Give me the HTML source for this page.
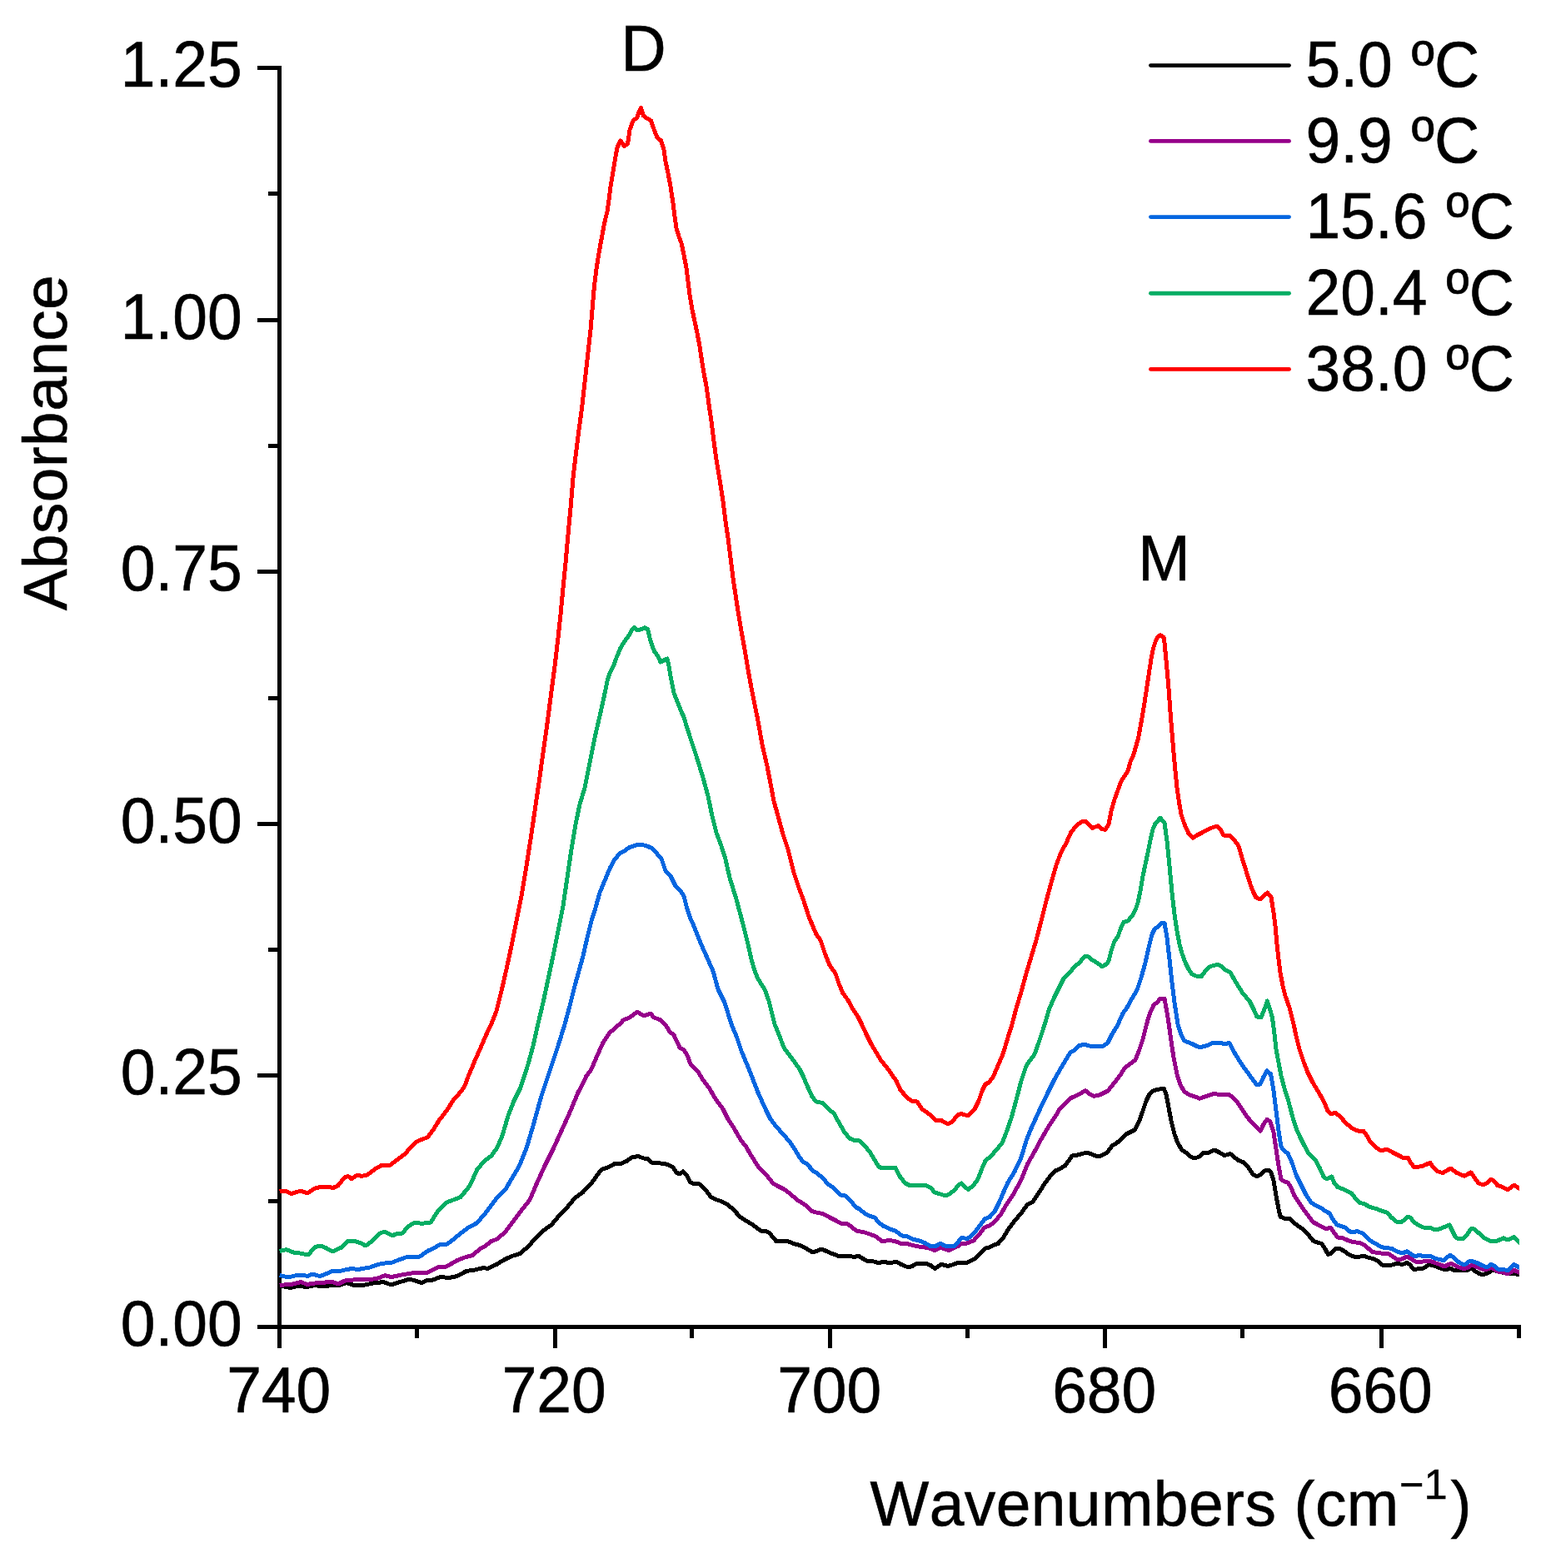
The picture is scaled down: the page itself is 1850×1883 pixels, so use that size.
<!DOCTYPE html><html><head><meta charset="utf-8"><title>Absorbance spectra</title>
<style>html,body{margin:0;padding:0;background:#fff}body{width:1850px;height:1883px;overflow:hidden}svg{display:block}text{font-family:"Liberation Sans",sans-serif;fill:#000;font-kerning:none;stroke:#000;stroke-width:0.6px}</style></head><body>
<svg width="1850" height="1883" viewBox="0 0 1850 1883">
<rect width="1850" height="1883" fill="#fff"/>
<g fill="#000" shape-rendering="crispEdges">
<rect x="333" y="79" width="5" height="1540"/>
<rect x="309" y="1591" width="1517" height="5"/>
<rect x="322" y="1440" width="13" height="5"/>
<rect x="309" y="1289" width="26" height="5"/>
<rect x="322" y="1138" width="13" height="5"/>
<rect x="309" y="987" width="26" height="5"/>
<rect x="322" y="836" width="13" height="5"/>
<rect x="309" y="684" width="26" height="5"/>
<rect x="322" y="533" width="13" height="5"/>
<rect x="309" y="382" width="26" height="5"/>
<rect x="322" y="230" width="13" height="5"/>
<rect x="309" y="79" width="26" height="5"/>
<rect x="498" y="1594" width="5" height="13"/>
<rect x="664" y="1594" width="5" height="25"/>
<rect x="828" y="1594" width="5" height="13"/>
<rect x="994" y="1594" width="5" height="25"/>
<rect x="1159" y="1594" width="5" height="13"/>
<rect x="1324" y="1594" width="5" height="25"/>
<rect x="1489" y="1594" width="5" height="13"/>
<rect x="1656" y="1594" width="5" height="25"/>
<rect x="1821" y="1594" width="5" height="13"/>
</g>
<defs><clipPath id="pc"><rect x="333.2" y="60" width="1490.7" height="1540"/></clipPath></defs>
<g clip-path="url(#pc)" shape-rendering="crispEdges" fill="none" stroke-width="5" stroke-linejoin="round" stroke-linecap="butt">
<polyline stroke="#000000" points="335.6,1544.0 349.0,1546.6 358.0,1544.0 368.0,1545.6 378.0,1543.6 390.0,1545.0 398.0,1543.4 406.0,1544.0 416.0,1540.4 426.0,1544.0 438.0,1543.0 448.0,1541.0 460.0,1539.6 470.0,1543.0 480.0,1539.6 492.0,1536.0 506.0,1540.6 512.0,1537.6 520.0,1537.0 528.0,1533.6 540.0,1534.4 549.0,1532.4 560.0,1526.4 570.0,1525.0 581.0,1522.4 585.0,1523.6 597.0,1518.0 605.0,1513.0 614.0,1508.6 624.0,1505.6 634.0,1497.0 642.0,1488.0 652.0,1478.0 662.0,1471.0 672.0,1459.0 680.0,1451.0 690.0,1439.0 700.0,1431.5 710.0,1421.0 720.0,1407.0 724.0,1403.6 730.0,1402.0 738.0,1397.4 746.0,1397.4 753.0,1394.0 758.0,1390.0 766.0,1388.6 773.0,1391.0 777.0,1391.4 783.0,1396.4 790.0,1396.6 798.0,1397.6 804.0,1399.6 808.0,1401.6 812.0,1408.0 816.0,1410.0 820.0,1407.0 824.0,1411.0 829.0,1420.0 833.0,1421.6 840.0,1422.0 848.0,1430.0 853.0,1437.0 859.0,1440.4 866.0,1442.6 874.0,1447.0 881.0,1453.0 888.0,1461.0 895.0,1465.6 904.0,1471.0 913.0,1478.0 920.0,1478.6 924.0,1481.0 932.0,1490.6 946.0,1490.6 953.0,1493.6 960.0,1495.4 968.0,1499.4 975.0,1503.6 979.0,1503.0 985.0,1500.4 989.0,1501.0 996.0,1504.4 1007.0,1508.4 1020.0,1508.4 1025.0,1509.4 1031.0,1508.4 1040.0,1514.0 1049.0,1515.0 1054.0,1516.6 1060.0,1515.6 1070.0,1516.5 1076.0,1515.0 1082.0,1518.6 1088.0,1521.0 1094.0,1521.0 1101.0,1517.4 1112.0,1517.4 1118.0,1520.0 1122.4,1523.4 1130.0,1518.4 1138.0,1520.4 1143.0,1519.0 1150.0,1516.4 1162.0,1516.0 1170.0,1511.6 1177.0,1505.0 1183.0,1499.0 1188.0,1498.0 1192.0,1495.6 1198.0,1493.6 1204.0,1487.0 1210.0,1477.0 1218.0,1466.0 1226.0,1457.0 1233.0,1447.0 1240.0,1443.0 1248.0,1431.0 1255.0,1420.0 1262.0,1411.0 1267.0,1406.0 1272.0,1404.0 1279.0,1399.6 1287.0,1388.0 1296.0,1386.6 1303.0,1384.4 1308.0,1385.0 1313.0,1387.4 1320.0,1389.0 1329.0,1384.0 1335.0,1376.0 1341.0,1372.4 1346.0,1368.0 1352.0,1362.0 1358.0,1359.0 1362.0,1357.0 1367.0,1348.0 1372.0,1334.0 1376.0,1322.0 1380.0,1314.0 1385.0,1309.6 1392.0,1308.0 1397.0,1307.0 1400.0,1314.0 1403.0,1330.0 1406.0,1346.0 1410.0,1362.0 1414.0,1373.0 1419.0,1381.0 1425.0,1385.0 1429.0,1389.0 1434.0,1391.0 1440.0,1389.0 1445.0,1384.4 1449.0,1385.0 1458.0,1381.0 1464.0,1384.0 1470.0,1387.6 1477.0,1385.6 1486.0,1393.0 1493.0,1396.0 1498.0,1401.0 1504.0,1410.0 1509.0,1413.0 1514.0,1410.0 1519.0,1405.6 1523.0,1405.0 1526.0,1408.0 1529.0,1418.0 1532.0,1436.0 1535.0,1452.0 1537.0,1461.0 1542.0,1463.4 1548.0,1463.4 1552.0,1467.0 1558.0,1472.0 1564.0,1476.0 1570.0,1482.0 1576.0,1489.6 1580.0,1491.6 1587.0,1493.6 1591.0,1500.0 1594.4,1506.6 1598.0,1505.0 1603.0,1499.6 1608.0,1499.4 1613.0,1502.0 1618.0,1505.6 1623.0,1508.4 1629.0,1510.0 1637.0,1508.0 1642.0,1510.0 1650.0,1512.0 1655.0,1515.0 1660.0,1519.4 1669.0,1519.6 1677.0,1517.4 1684.0,1518.4 1689.0,1516.4 1693.0,1519.0 1697.0,1524.4 1708.0,1523.4 1716.0,1518.6 1721.0,1520.0 1728.0,1522.4 1733.0,1524.4 1738.0,1524.4 1741.0,1523.0 1746.0,1525.6 1751.0,1526.0 1756.0,1525.6 1761.0,1525.6 1766.0,1523.0 1772.0,1527.4 1777.0,1530.0 1782.0,1530.4 1788.0,1528.0 1792.0,1525.0 1798.0,1527.0 1810.0,1529.4 1817.6,1529.2 1823.8,1530.8 1829.5,1531.4"/>
<polyline stroke="#96008A" points="335.6,1543.4 350.0,1542.4 361.0,1539.6 369.0,1542.4 378.0,1541.0 386.0,1540.6 398.0,1539.0 406.0,1542.0 414.0,1538.0 430.0,1536.4 442.0,1537.0 454.0,1535.0 462.0,1531.6 470.0,1533.6 482.0,1531.0 494.0,1529.0 512.0,1528.6 520.0,1525.0 526.0,1521.6 536.0,1521.0 548.0,1514.0 558.0,1510.0 567.0,1507.6 576.0,1500.0 583.0,1496.0 590.0,1490.4 597.0,1488.0 607.0,1479.0 618.0,1464.0 628.0,1451.0 636.0,1441.0 644.0,1422.0 654.0,1400.0 664.0,1380.0 674.0,1358.0 684.0,1336.0 694.0,1312.0 700.0,1300.5 704.0,1292.0 710.0,1284.0 716.0,1270.0 724.0,1252.0 732.0,1240.0 736.0,1237.0 741.0,1232.0 744.4,1230.0 748.0,1225.0 756.0,1222.0 765.0,1215.0 773.0,1220.0 781.0,1217.0 785.0,1222.0 792.0,1224.4 798.5,1230.0 804.0,1239.0 809.0,1243.0 816.0,1258.0 821.0,1261.0 825.0,1267.0 829.0,1278.0 834.0,1283.0 838.0,1287.0 844.0,1297.0 851.0,1306.0 858.0,1318.0 862.0,1324.0 868.0,1332.0 874.0,1344.0 880.0,1353.0 890.0,1370.0 895.0,1376.0 902.0,1388.0 911.0,1402.0 920.0,1411.0 928.0,1421.0 933.0,1424.0 941.0,1428.0 948.0,1433.0 957.0,1441.0 966.0,1446.6 975.0,1454.6 980.0,1456.0 988.0,1457.6 996.0,1462.0 1004.0,1466.0 1009.0,1469.0 1016.0,1469.0 1022.0,1473.0 1028.0,1478.0 1038.0,1480.0 1044.0,1482.0 1052.0,1485.0 1059.0,1491.0 1064.0,1490.0 1070.0,1489.8 1076.0,1491.0 1083.0,1494.0 1089.0,1493.6 1096.0,1495.6 1103.0,1497.0 1110.0,1498.0 1117.0,1499.4 1122.4,1501.6 1129.0,1498.0 1134.0,1500.0 1139.0,1501.6 1146.0,1498.4 1151.0,1496.0 1155.0,1493.0 1161.0,1493.0 1169.0,1489.6 1175.0,1483.0 1182.0,1474.0 1189.0,1471.4 1195.0,1466.0 1201.0,1459.0 1208.0,1447.0 1216.0,1435.0 1226.0,1417.0 1234.0,1397.0 1242.0,1383.0 1250.0,1368.0 1260.0,1351.0 1268.0,1339.0 1272.0,1332.0 1278.0,1326.0 1285.0,1319.0 1292.0,1315.6 1298.0,1312.6 1303.0,1309.6 1308.0,1313.6 1313.0,1316.4 1320.0,1315.0 1330.0,1310.0 1338.0,1300.0 1345.0,1291.0 1350.0,1283.0 1356.0,1278.0 1363.0,1273.0 1368.0,1260.0 1372.0,1248.0 1376.5,1230.0 1380.0,1218.0 1385.0,1207.0 1389.0,1204.0 1393.0,1199.0 1398.0,1199.0 1402.5,1224.7 1406.0,1250.0 1409.0,1270.0 1413.0,1290.0 1417.0,1303.0 1422.0,1311.0 1429.0,1315.4 1435.0,1317.0 1440.0,1319.4 1448.0,1316.4 1457.0,1313.4 1464.0,1314.4 1476.0,1314.6 1485.0,1323.0 1491.0,1332.0 1498.0,1342.4 1506.0,1351.0 1513.0,1358.4 1517.0,1350.0 1521.0,1344.4 1525.0,1347.0 1529.0,1360.0 1532.0,1380.0 1535.0,1400.0 1538.0,1416.4 1542.0,1419.0 1546.0,1420.0 1550.0,1426.0 1554.0,1436.0 1560.0,1445.0 1566.0,1454.0 1572.0,1462.0 1577.0,1468.0 1584.0,1471.6 1591.0,1475.4 1598.0,1474.6 1602.0,1481.0 1606.0,1486.0 1612.0,1486.6 1619.0,1490.0 1624.0,1491.4 1632.0,1492.6 1638.0,1495.0 1644.0,1500.4 1648.0,1503.6 1658.0,1505.0 1666.0,1505.0 1672.0,1509.0 1678.0,1513.0 1683.0,1512.0 1689.0,1509.0 1693.0,1511.0 1699.0,1515.0 1708.0,1515.0 1716.0,1514.0 1724.0,1517.0 1730.0,1519.0 1734.0,1521.0 1740.0,1518.0 1743.0,1517.6 1749.0,1521.0 1757.0,1523.6 1762.0,1522.4 1767.0,1519.0 1773.0,1521.6 1780.0,1524.4 1786.0,1524.0 1791.0,1522.4 1798.0,1527.0 1804.0,1528.0 1810.0,1530.0 1817.6,1525.4 1823.8,1528.1 1829.5,1529.7"/>
<polyline stroke="#0566E0" points="335.6,1531.4 342.0,1533.0 350.0,1533.0 358.0,1531.0 370.0,1532.4 375.0,1530.0 384.0,1532.6 392.0,1529.6 400.0,1526.0 406.0,1527.0 414.0,1525.0 422.0,1523.6 430.0,1524.4 444.0,1522.0 454.0,1518.4 462.0,1517.0 470.0,1516.4 480.0,1512.4 490.0,1509.0 504.0,1509.0 514.0,1502.0 522.0,1498.4 527.0,1495.0 536.0,1494.4 545.0,1488.0 553.0,1481.0 562.0,1474.4 572.0,1469.0 582.0,1458.0 590.0,1447.0 597.0,1438.0 607.0,1428.0 614.0,1416.0 623.0,1401.0 632.0,1379.0 640.0,1352.0 650.0,1316.0 660.0,1286.0 670.0,1256.0 678.0,1230.0 684.0,1208.0 690.0,1184.0 695.0,1166.0 700.0,1148.0 705.0,1126.0 710.0,1106.0 715.0,1090.0 720.0,1072.0 725.0,1060.0 732.0,1043.0 738.0,1032.0 744.0,1025.0 750.0,1021.6 756.0,1017.4 762.0,1015.4 768.0,1014.0 776.0,1015.6 782.0,1018.4 788.0,1024.4 794.0,1031.0 799.0,1046.0 805.0,1052.0 811.0,1064.0 817.0,1070.0 821.0,1076.0 824.0,1088.0 828.0,1101.0 833.0,1112.0 840.0,1130.0 848.0,1148.0 856.0,1166.0 862.0,1188.0 870.0,1204.0 878.0,1230.0 884.0,1244.0 890.0,1262.0 900.0,1286.0 910.0,1312.0 920.0,1334.0 925.0,1344.0 932.0,1353.0 940.0,1362.0 948.0,1371.0 954.0,1380.0 960.0,1390.0 964.0,1395.0 969.0,1398.0 976.0,1406.0 981.0,1409.0 988.0,1415.0 994.0,1422.0 1000.0,1426.0 1009.0,1435.0 1015.0,1436.0 1020.0,1441.0 1028.0,1450.0 1032.0,1452.0 1038.0,1457.0 1044.0,1460.4 1050.0,1462.0 1055.0,1468.0 1060.0,1472.0 1070.0,1476.7 1075.0,1478.0 1083.0,1484.0 1089.0,1484.6 1096.0,1488.4 1102.0,1489.4 1110.0,1492.4 1117.0,1496.6 1123.0,1496.6 1129.0,1493.4 1134.0,1496.0 1139.0,1497.0 1145.0,1496.6 1150.0,1492.0 1154.0,1486.6 1162.0,1487.4 1170.0,1480.0 1176.0,1472.0 1182.0,1464.0 1188.0,1461.6 1194.0,1455.0 1200.0,1443.0 1205.0,1431.0 1210.0,1420.0 1218.0,1407.0 1226.0,1390.0 1232.0,1370.0 1238.0,1355.0 1248.0,1333.0 1258.0,1312.0 1266.0,1296.0 1274.0,1282.0 1280.0,1272.0 1285.0,1264.0 1290.0,1261.0 1296.0,1255.4 1302.0,1254.4 1308.0,1256.0 1314.0,1257.0 1320.0,1256.0 1325.0,1256.0 1330.0,1252.0 1335.0,1242.0 1341.0,1232.5 1348.0,1217.0 1353.0,1210.0 1359.0,1199.0 1365.0,1189.0 1370.0,1174.0 1375.0,1156.0 1379.0,1138.0 1383.0,1122.0 1386.0,1116.0 1390.0,1113.0 1394.0,1108.6 1398.0,1108.6 1401.0,1126.0 1404.0,1152.0 1407.0,1180.0 1410.0,1204.0 1414.0,1230.0 1418.0,1243.0 1422.0,1250.0 1430.0,1253.0 1436.0,1256.0 1440.0,1257.8 1448.0,1256.0 1456.0,1252.4 1465.0,1252.4 1470.0,1253.6 1476.0,1252.6 1483.0,1266.0 1492.0,1280.0 1500.0,1291.0 1509.0,1303.0 1513.0,1302.0 1517.0,1293.0 1521.0,1286.0 1525.6,1290.0 1529.0,1310.0 1532.0,1334.0 1535.0,1358.0 1538.0,1377.0 1542.0,1382.4 1546.0,1385.0 1551.0,1396.0 1556.0,1411.0 1562.0,1423.0 1568.0,1435.0 1574.0,1444.0 1579.0,1447.4 1586.0,1450.6 1591.0,1454.4 1596.0,1457.0 1600.0,1464.0 1605.0,1471.0 1610.0,1472.6 1614.0,1473.6 1619.0,1478.0 1623.0,1480.0 1629.0,1478.6 1636.0,1481.0 1642.0,1487.4 1648.0,1491.6 1655.0,1495.6 1660.0,1498.0 1671.0,1499.4 1678.0,1503.4 1684.0,1505.0 1689.0,1502.6 1694.0,1506.0 1698.0,1508.4 1705.0,1507.6 1711.0,1509.0 1717.0,1508.4 1724.0,1511.6 1733.0,1513.6 1741.0,1507.0 1746.0,1511.0 1752.0,1516.4 1758.0,1519.0 1765.0,1514.0 1772.0,1516.0 1778.0,1519.0 1785.0,1522.0 1790.0,1518.4 1794.0,1520.0 1798.0,1524.0 1804.0,1524.4 1810.0,1525.6 1817.6,1518.4 1823.8,1522.2 1829.5,1524.3"/>
<polyline stroke="#05AD63" points="335.6,1502.4 344.0,1500.6 352.0,1504.0 360.0,1505.0 370.0,1507.0 378.0,1497.6 385.0,1496.0 392.0,1499.0 399.0,1503.0 410.0,1498.0 418.0,1490.0 424.0,1490.0 432.0,1492.4 439.0,1496.0 446.0,1491.0 456.0,1481.0 462.0,1479.0 471.0,1484.0 476.0,1481.6 483.0,1481.0 490.0,1473.0 498.0,1468.0 506.0,1469.4 517.0,1468.0 526.0,1454.0 536.0,1444.0 544.0,1441.0 553.0,1437.6 564.0,1424.0 573.0,1404.0 582.0,1394.0 590.0,1388.0 597.0,1378.0 603.0,1364.0 610.0,1340.0 617.0,1322.0 625.0,1306.0 634.0,1278.0 640.0,1256.0 645.8,1230.0 652.0,1204.0 658.0,1176.0 664.0,1148.0 670.0,1118.0 676.0,1088.0 681.0,1054.0 686.0,1020.0 691.0,990.0 696.0,966.0 702.0,946.0 708.0,916.0 714.0,886.0 720.0,860.0 724.0,842.0 727.0,828.0 729.0,818.0 732.0,808.0 736.0,801.0 740.0,790.0 745.0,778.0 750.0,770.0 755.0,763.0 759.0,756.0 761.6,753.6 765.0,757.0 770.0,755.6 774.0,753.6 777.6,755.6 780.0,766.0 783.0,776.0 786.0,783.0 789.0,786.6 793.0,795.0 797.0,793.0 801.0,791.0 803.0,800.0 805.0,812.0 807.0,822.0 809.0,832.0 812.0,840.0 815.0,847.0 818.0,855.0 820.5,860.0 828.0,884.0 836.0,908.0 844.0,934.0 850.0,956.0 855.0,980.0 860.0,1000.0 866.0,1016.0 871.0,1032.0 876.0,1054.0 884.0,1080.0 892.0,1110.0 898.0,1134.0 902.0,1152.0 906.0,1166.0 910.0,1175.5 914.0,1182.0 918.0,1188.0 923.0,1202.0 927.0,1218.0 930.0,1230.0 935.0,1242.0 941.0,1258.0 946.0,1265.0 953.0,1274.0 960.0,1284.0 964.0,1292.0 970.0,1306.0 975.0,1317.0 980.0,1323.0 988.0,1324.6 995.0,1332.0 1001.0,1337.0 1006.0,1346.0 1014.0,1360.0 1020.0,1367.0 1025.0,1369.4 1032.0,1370.0 1038.0,1376.0 1044.0,1383.0 1050.0,1393.0 1055.0,1401.0 1059.0,1403.0 1070.0,1402.4 1075.0,1402.4 1081.0,1414.0 1087.0,1421.0 1093.0,1424.0 1100.0,1423.0 1113.0,1424.0 1118.0,1427.0 1122.0,1432.0 1129.0,1434.0 1135.0,1436.0 1140.0,1434.0 1146.0,1429.0 1151.0,1423.0 1154.4,1421.0 1158.0,1425.0 1162.4,1428.4 1168.0,1424.0 1174.0,1416.0 1179.0,1403.0 1183.0,1394.0 1190.0,1388.0 1196.0,1381.0 1203.0,1373.0 1208.0,1360.0 1214.0,1343.0 1220.0,1321.0 1226.0,1298.0 1232.0,1280.0 1236.0,1274.0 1242.0,1266.0 1247.0,1252.0 1251.0,1240.0 1254.3,1230.0 1259.5,1212.0 1265.5,1198.0 1272.0,1185.0 1277.0,1175.0 1284.0,1168.0 1290.0,1161.0 1296.0,1156.0 1302.0,1148.6 1306.0,1148.6 1310.0,1152.0 1316.0,1155.6 1323.0,1160.6 1328.0,1158.0 1331.0,1154.0 1334.0,1142.0 1338.0,1130.0 1342.0,1125.0 1345.0,1116.0 1349.0,1107.4 1354.0,1106.0 1359.0,1100.0 1363.0,1093.0 1366.0,1084.0 1369.0,1070.0 1372.0,1052.0 1375.0,1038.0 1378.0,1024.0 1381.0,1009.0 1384.0,996.0 1387.0,989.0 1393.0,982.4 1398.0,988.0 1401.0,1010.0 1404.0,1040.0 1407.0,1072.0 1410.0,1098.0 1413.0,1118.0 1416.0,1134.0 1419.0,1145.0 1423.0,1156.0 1427.0,1164.0 1431.0,1170.0 1436.0,1172.0 1442.0,1173.0 1447.0,1166.0 1452.0,1161.0 1457.0,1159.4 1462.0,1158.4 1466.0,1160.0 1470.0,1164.0 1477.0,1168.0 1484.0,1180.0 1492.0,1193.0 1500.0,1202.0 1505.0,1212.0 1509.0,1221.0 1514.0,1222.0 1518.0,1212.0 1521.4,1202.0 1527.4,1221.5 1530.0,1242.0 1532.0,1260.0 1535.0,1276.0 1538.0,1292.0 1542.0,1307.0 1547.0,1323.0 1552.0,1342.0 1556.0,1355.0 1561.0,1366.0 1566.0,1376.0 1571.0,1385.0 1579.0,1393.0 1584.0,1402.0 1589.0,1413.0 1593.0,1416.0 1598.6,1413.0 1602.0,1421.0 1606.0,1425.6 1614.0,1428.6 1623.0,1433.4 1628.0,1440.0 1633.0,1444.6 1638.0,1445.6 1644.0,1449.4 1652.0,1451.6 1660.0,1454.6 1665.0,1456.0 1670.0,1461.6 1676.0,1467.0 1682.0,1468.0 1686.0,1465.0 1690.0,1461.0 1693.0,1462.0 1698.0,1468.0 1704.0,1472.0 1710.0,1474.4 1717.0,1474.0 1722.0,1477.0 1727.0,1476.4 1734.0,1473.6 1740.0,1471.0 1743.0,1477.0 1747.0,1485.0 1750.0,1487.4 1757.0,1487.4 1761.0,1483.0 1766.0,1475.6 1770.0,1476.0 1776.0,1481.4 1782.0,1486.6 1788.0,1490.0 1798.0,1490.0 1805.0,1486.6 1810.0,1489.0 1817.6,1485.4 1823.8,1491.9 1829.5,1497.3"/>
<polyline stroke="#FF0000" points="335.6,1430.6 342.0,1430.0 350.0,1433.6 361.0,1430.0 369.0,1433.0 378.0,1427.0 387.0,1425.0 396.0,1425.4 399.0,1427.0 406.0,1423.6 414.0,1413.6 418.0,1412.6 422.0,1415.6 429.0,1411.0 434.0,1412.4 441.0,1411.0 450.0,1404.0 458.0,1399.4 468.0,1399.4 478.0,1392.0 486.0,1386.0 492.0,1379.0 499.0,1371.6 506.0,1368.4 513.0,1366.0 520.0,1357.0 527.0,1345.6 536.0,1334.0 544.0,1321.6 554.0,1310.0 558.0,1304.0 562.0,1293.0 570.0,1274.0 578.0,1256.0 584.0,1242.0 589.7,1230.0 596.0,1214.0 602.0,1190.0 608.0,1164.0 614.0,1136.0 620.0,1106.0 626.0,1076.0 632.0,1040.0 637.0,1008.0 642.0,974.0 647.0,940.0 652.0,904.0 657.5,865.3 662.0,830.0 666.0,800.0 670.0,766.0 673.0,738.0 676.0,706.0 679.0,676.0 682.0,642.0 685.0,610.0 688.0,574.0 691.0,548.0 694.0,524.0 698.8,488.0 703.0,450.0 705.0,432.0 707.0,414.0 709.0,396.0 710.4,380.0 712.0,360.0 713.6,342.0 715.6,326.0 718.0,310.0 720.4,296.0 723.0,282.0 725.6,268.0 729.0,254.0 731.0,240.0 733.0,224.0 736.0,206.0 739.0,188.0 741.0,177.0 745.0,169.0 749.6,175.6 753.6,172.4 756.0,156.0 760.0,145.0 765.0,141.0 767.0,134.0 769.6,129.6 772.4,139.0 776.0,141.6 781.6,145.0 785.0,155.0 789.0,165.0 793.6,169.0 797.0,180.0 799.0,194.0 802.0,208.0 805.0,224.0 808.0,244.0 810.0,260.0 812.0,274.0 815.0,284.0 818.0,292.0 821.0,306.0 824.0,322.0 826.0,338.0 828.0,354.0 831.0,372.0 834.0,386.0 837.0,400.0 840.0,416.0 842.4,432.0 845.0,448.0 848.0,464.0 851.1,486.0 854.0,506.0 857.0,530.0 860.0,552.0 864.0,576.0 868.0,602.0 871.0,626.0 874.0,646.0 877.0,670.0 880.0,694.0 883.0,714.0 886.0,734.0 890.0,758.0 894.0,780.0 898.0,804.0 902.0,826.0 906.0,846.0 909.5,863.0 915.0,894.0 921.0,920.0 926.0,946.0 929.0,962.0 934.0,980.0 940.0,1002.0 946.0,1020.0 950.0,1036.0 953.0,1048.0 959.0,1066.0 965.0,1082.0 970.0,1098.0 974.0,1108.0 980.0,1122.0 985.0,1129.0 990.0,1144.0 996.0,1159.0 1003.0,1169.0 1007.0,1181.0 1012.0,1193.0 1018.0,1201.0 1024.0,1212.0 1030.0,1221.0 1034.5,1230.0 1040.0,1242.0 1046.0,1254.0 1052.0,1264.0 1058.0,1274.0 1064.0,1281.0 1070.0,1289.5 1076.0,1298.0 1081.0,1309.0 1088.0,1317.0 1094.0,1322.0 1101.0,1323.0 1107.0,1332.0 1113.0,1336.0 1118.0,1340.0 1123.0,1345.4 1130.0,1345.4 1138.0,1350.0 1143.0,1347.0 1150.0,1339.0 1154.0,1337.4 1162.0,1340.0 1170.0,1332.0 1175.0,1322.0 1179.0,1310.0 1183.0,1302.0 1187.0,1300.0 1192.0,1294.0 1198.0,1280.0 1204.0,1266.0 1210.0,1246.0 1215.0,1230.0 1220.0,1211.0 1226.0,1191.0 1232.0,1169.0 1238.0,1149.0 1244.0,1129.0 1250.0,1106.0 1256.0,1082.0 1262.0,1060.0 1268.0,1039.0 1274.0,1023.0 1280.0,1012.5 1286.0,999.0 1292.0,992.0 1298.0,987.0 1303.0,986.4 1307.0,990.0 1311.0,994.4 1315.0,993.0 1319.0,991.6 1323.0,995.6 1327.0,996.4 1331.0,990.0 1334.0,974.0 1338.0,960.0 1342.0,949.0 1346.0,938.0 1350.0,932.0 1354.0,926.0 1357.0,915.0 1361.0,906.0 1366.7,885.8 1371.0,862.0 1373.9,844.5 1376.9,825.1 1379.8,805.6 1382.2,790.1 1384.6,778.4 1387.1,770.6 1389.5,765.7 1392.9,762.6 1397.3,765.7 1398.3,774.5 1399.7,790.1 1401.2,805.6 1402.6,821.2 1405.5,861.7 1409.0,904.0 1411.0,926.0 1413.0,946.0 1415.6,964.0 1418.0,978.0 1422.0,990.0 1427.0,1001.0 1432.0,1006.4 1437.0,1003.0 1443.0,1000.0 1449.0,996.6 1455.0,994.0 1461.0,992.0 1465.0,996.0 1469.0,1003.0 1477.0,1003.6 1482.0,1009.0 1487.0,1016.0 1491.0,1030.0 1496.0,1046.0 1501.0,1062.0 1504.0,1070.0 1508.0,1078.0 1513.0,1080.0 1517.0,1076.0 1521.6,1072.0 1526.0,1077.0 1529.0,1096.0 1531.0,1112.0 1533.0,1134.0 1535.0,1152.0 1537.0,1168.0 1540.0,1184.0 1543.0,1196.0 1548.0,1210.0 1553.0,1230.0 1556.0,1244.0 1560.0,1260.0 1565.0,1275.0 1570.0,1288.0 1576.0,1300.0 1582.0,1310.0 1589.0,1322.0 1594.0,1334.0 1598.0,1338.0 1603.0,1336.0 1609.0,1341.0 1616.0,1349.0 1624.0,1355.4 1630.0,1358.0 1637.0,1358.4 1641.0,1364.0 1645.0,1371.0 1652.0,1378.0 1658.0,1382.0 1665.0,1380.0 1672.0,1384.0 1680.0,1388.0 1685.0,1390.6 1690.0,1390.0 1694.0,1397.0 1698.0,1402.0 1708.0,1400.4 1713.0,1398.0 1717.0,1396.4 1720.0,1401.0 1725.0,1406.4 1732.0,1408.6 1738.0,1405.0 1742.0,1403.0 1748.0,1408.0 1758.0,1412.4 1762.0,1410.0 1766.0,1408.0 1770.0,1414.0 1775.0,1421.0 1781.0,1423.0 1786.0,1420.0 1790.0,1416.0 1793.0,1418.0 1798.0,1423.6 1804.0,1425.6 1810.0,1429.0 1817.6,1423.2 1823.8,1427.0 1829.5,1430.3"/>
</g>
<g font-size="75" text-anchor="end">
<text transform="translate(290.7,1615.9) scale(1,1.030)">0.00</text>
<text transform="translate(290.7,1313.9) scale(1,1.030)">0.25</text>
<text transform="translate(290.7,1011.9) scale(1,1.030)">0.50</text>
<text transform="translate(290.7,708.9) scale(1,1.030)">0.75</text>
<text transform="translate(290.7,406.9) scale(1,1.030)">1.00</text>
<text transform="translate(290.7,103.9) scale(1,1.030)">1.25</text>
</g>
<g font-size="75" text-anchor="middle">
<text transform="translate(334.7,1695.8) scale(1,1.030)">740</text>
<text transform="translate(665.2,1695.8) scale(1,1.030)">720</text>
<text transform="translate(995.7,1695.8) scale(1,1.030)">700</text>
<text transform="translate(1325.7,1695.8) scale(1,1.030)">680</text>
<text transform="translate(1657.2,1695.8) scale(1,1.030)">660</text>
<text transform="translate(772.6,84.5) scale(1,1.030)">D</text>
<text transform="translate(1397.4,697) scale(1,1.030)">M</text>
</g>
<text font-size="75" transform="translate(80.2,733.3) rotate(-90)" letter-spacing="0.3">Absorbance</text>
<text font-size="75" transform="translate(1044.5,1832) scale(1,1.015)" letter-spacing="0.4">Wavenumbers (cm<tspan font-size="50" dy="-32" dx="0.5">−1</tspan><tspan dy="32" dx="3.5">)</tspan></text>
<g stroke-width="4.9" stroke-linecap="round" fill="none">
<path stroke="#000000" d="M1381.5 78.6 H1547.5"/>
<path stroke="#96008A" d="M1381.5 169.4 H1547.5"/>
<path stroke="#0566E0" d="M1381.5 260.6 H1547.5"/>
<path stroke="#05AD63" d="M1381.5 352.2 H1547.5"/>
<path stroke="#FF0000" d="M1381.5 443.4 H1547.5"/>
</g>
<g font-size="75">
<text transform="translate(1567.5,104.0) scale(1,1.030)">5.0 <tspan dx="2">º</tspan>C</text>
<text transform="translate(1567.5,194.8) scale(1,1.030)">9.9 <tspan dx="2">º</tspan>C</text>
<text transform="translate(1567.5,286.0) scale(1,1.030)">15.6 <tspan dx="2">º</tspan>C</text>
<text transform="translate(1567.5,377.6) scale(1,1.030)">20.4 <tspan dx="2">º</tspan>C</text>
<text transform="translate(1567.5,468.8) scale(1,1.030)">38.0 <tspan dx="2">º</tspan>C</text>
</g>
</svg></body></html>
